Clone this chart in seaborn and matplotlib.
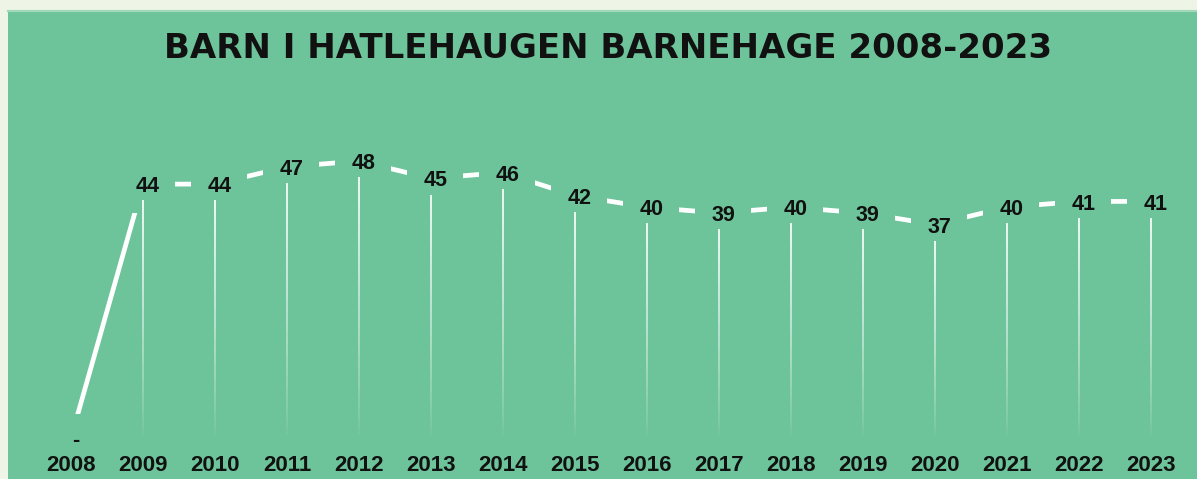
"""Barn i Hatlehaugen barnehage 2008-2023"""
import seaborn as sns
import matplotlib.pyplot as plt
import pandas as pd
import numpy as np
from matplotlib.collections import LineCollection

BG, PANEL, EDGE = '#eef5e7', '#6dc49a', '#a3d8b9'
TEXT, LINE = '#111111', '#ffffff'

sns.set_theme(style='white', rc={'axes.unicode_minus': False})
plt.rcParams['font.family'] = ['Liberation Sans', 'DejaVu Sans']

years = list(range(2008, 2024))
children = [0, 44, 44, 47, 48, 45, 46, 42, 40, 39, 40, 39, 37, 40, 41, 41]
value_labels = ['-' if v == 0 else str(v) for v in children]

df = pd.DataFrame({'År': years, 'Barn': children})

fig = plt.figure(figsize=(11.97, 4.79), dpi=100, facecolor=BG)
ax = fig.add_axes([8 / 1197, 0, 1189 / 1197, 468 / 479])
ax.set_facecolor(PANEL)

sns.lineplot(data=df, x='År', y='Barn', color=LINE, lw=3.4, ax=ax, zorder=2)

# value labels sit on the points and mask the line around them
for x, v, lab in zip(years, children, value_labels):
    ax.text(x + 0.06, v - 1.4, lab, ha='center', va='baseline',
            fontsize=15.5, fontweight='bold', color=TEXT, zorder=3,
            bbox=dict(boxstyle='square,pad=0.75', fc=PANEL, ec='none'))

# fading drop lines below each point
for x, v in zip(years, children):
    if v <= 0:
        continue
    ys = np.linspace(v - 2.8, -0.5, 41)
    segs = [[(x, ys[i]), (x, ys[i + 1])] for i in range(40)]
    alphas = 0.95 * (1 - np.linspace(0, 1, 40)) ** 0.8
    cols = [(1, 1, 1, a) for a in alphas]
    ax.add_collection(LineCollection(segs, colors=cols, lw=1.3, zorder=4))

# year labels along the bottom
for x in years:
    ax.text(x, -5.72, str(x), ha='center', va='baseline',
            fontsize=16, fontweight='bold', color=TEXT)

ax.set_xlim(2008 - 0.875, 2008 + 15.639)
ax.set_ylim(-7.1, 74.0)
ax.set_xticks([])
ax.set_yticks([])
ax.set_xlabel('')
ax.set_ylabel('')
for name, sp in ax.spines.items():
    sp.set_visible(name == 'top')
ax.spines['top'].set_color(EDGE)
ax.spines['top'].set_linewidth(1.6)

fig.text(608 / 1197, 1 - 58 / 479, 'BARN I HATLEHAUGEN BARNEHAGE 2008-2023',
         ha='center', va='baseline', fontsize=24.5, fontweight='bold',
         color=TEXT, family=['DejaVu Sans'])

plt.savefig('out.png', dpi=100, facecolor=BG)
